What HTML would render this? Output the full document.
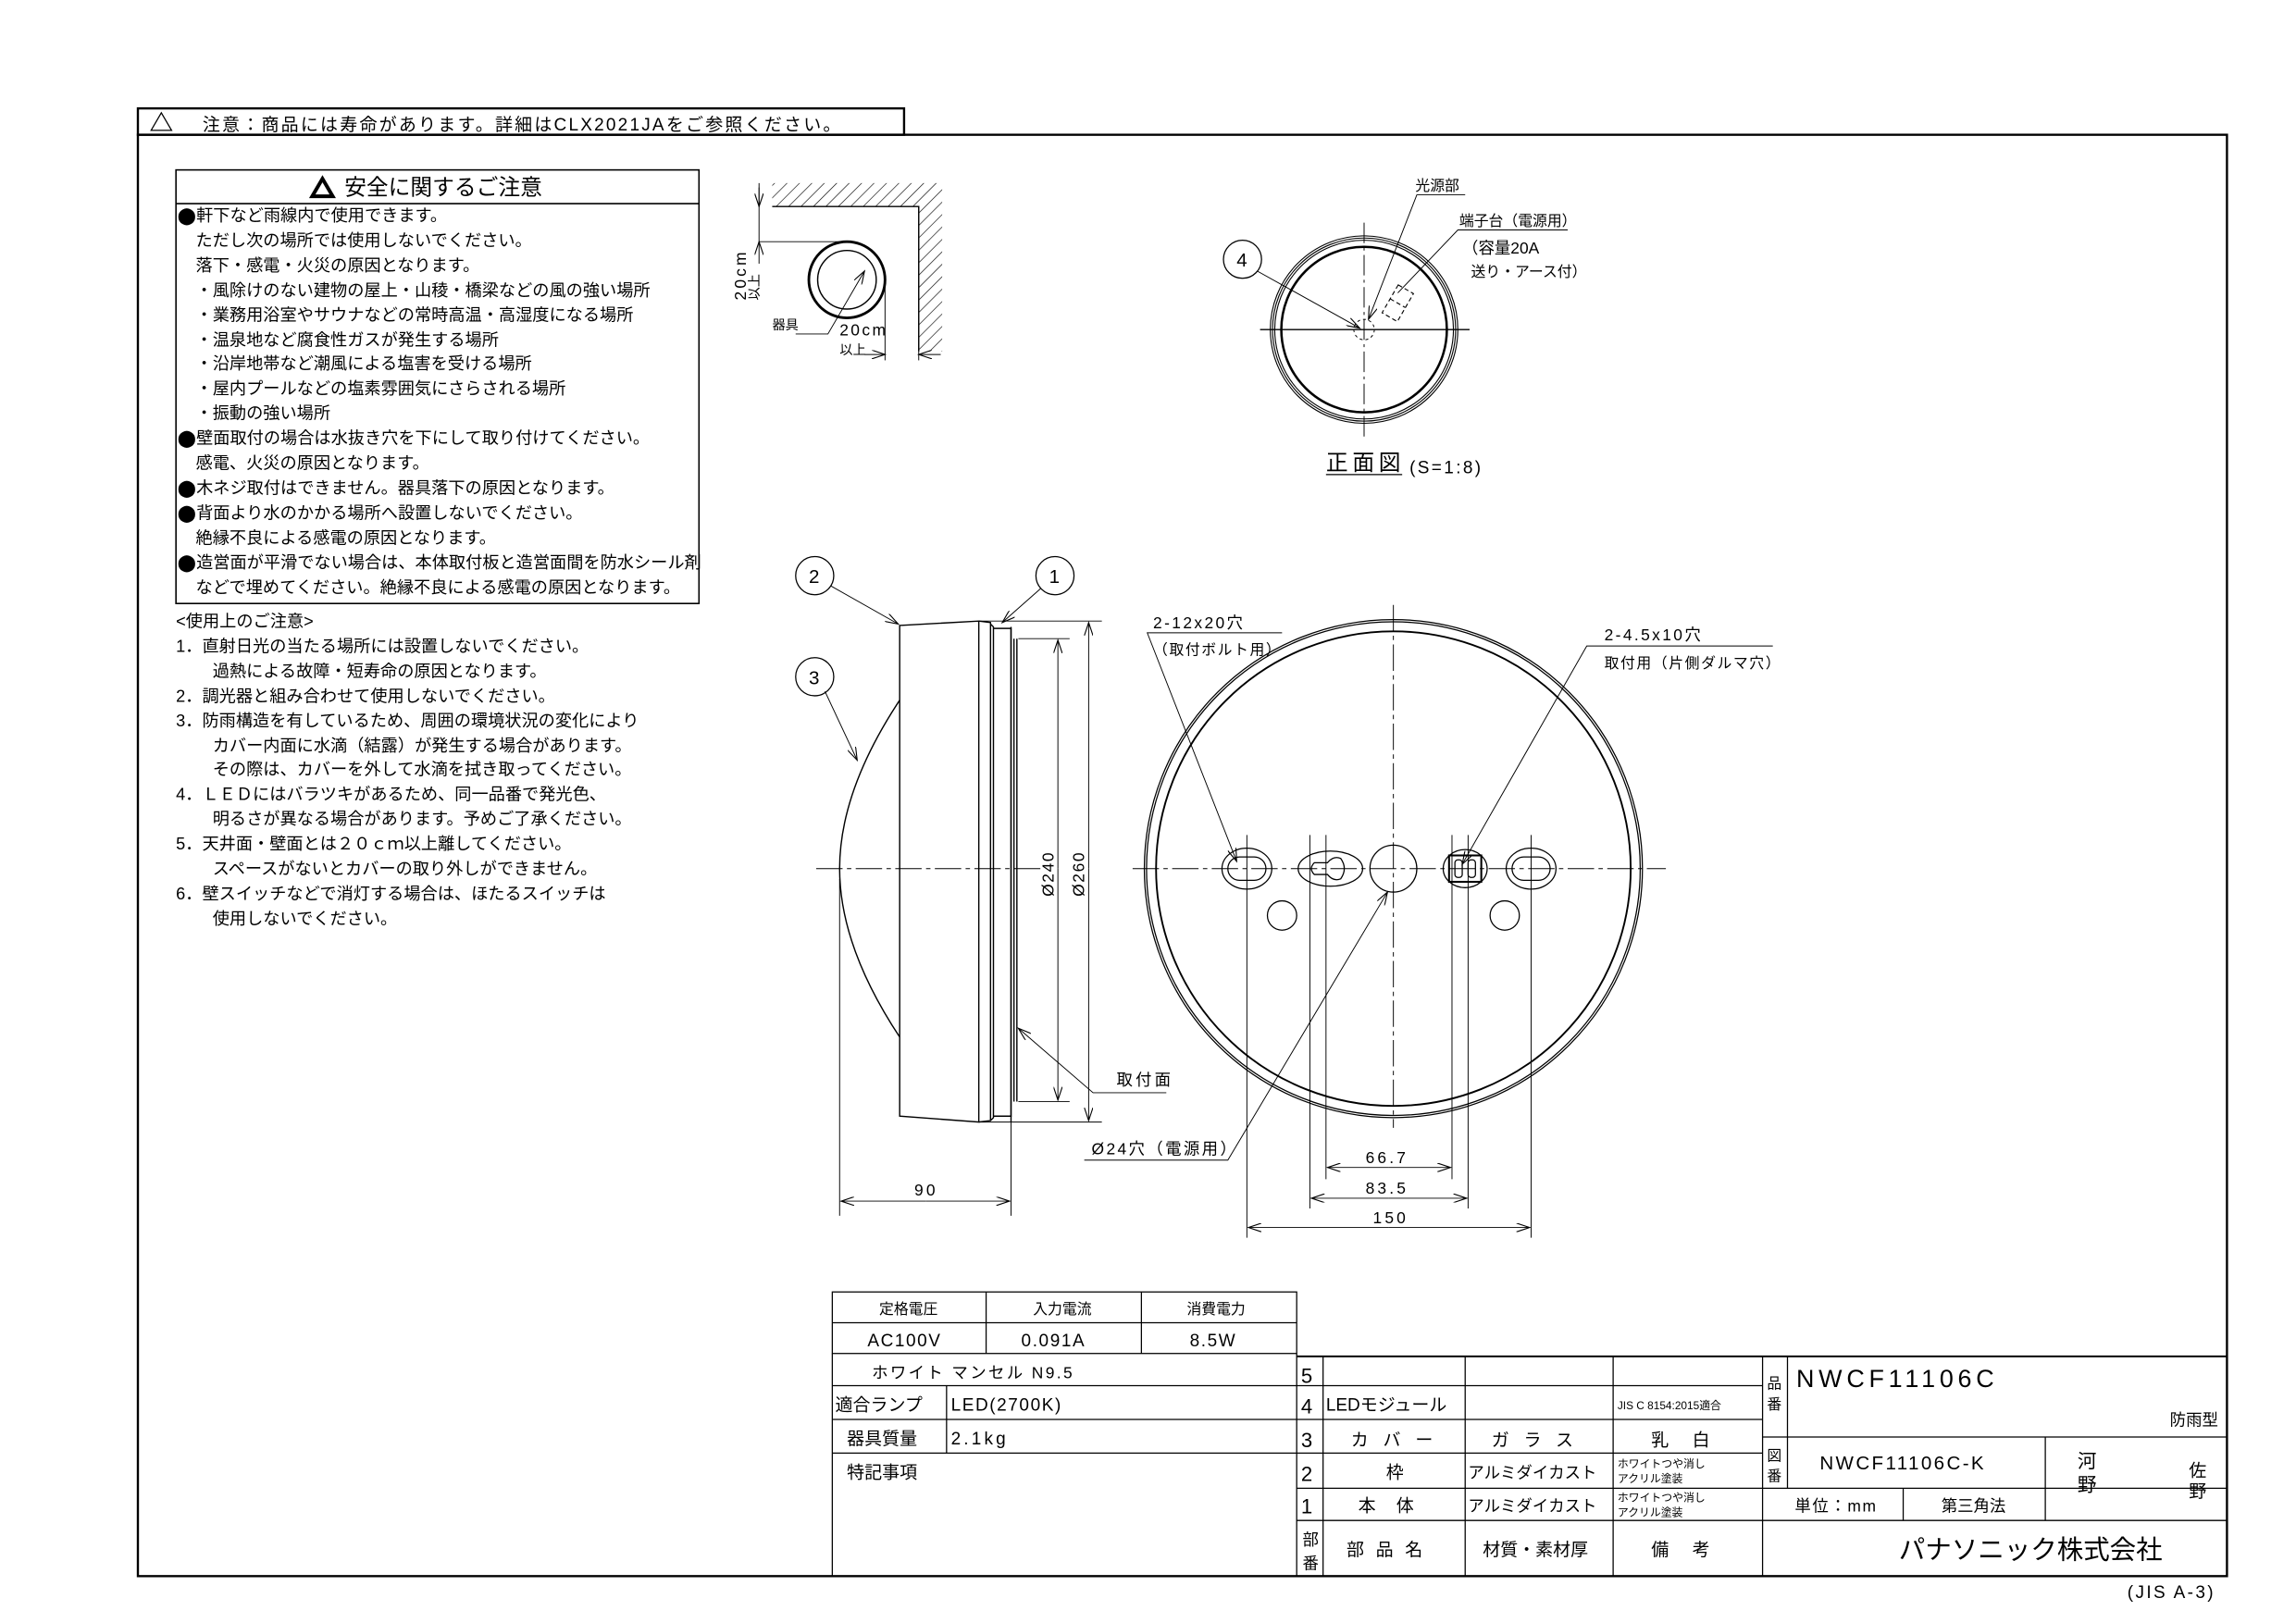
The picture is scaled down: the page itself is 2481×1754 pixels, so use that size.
<!DOCTYPE html>
<html><head><meta charset="utf-8"><style>
html,body{margin:0;padding:0;background:#fff;}
svg{display:block;}
text{font-family:"Liberation Sans","Noto Sans CJK JP",sans-serif;fill:#000;}
</style></head><body>
<svg width="2481" height="1754" viewBox="0 0 1567 1108" xmlns="http://www.w3.org/2000/svg">
<defs>
<pattern id="h" width="6" height="6" patternUnits="userSpaceOnUse" patternTransform="rotate(45)"><line x1="0" y1="0" x2="0" y2="6" stroke="#000" stroke-width="0.8"/></pattern>
<marker id="a" markerWidth="10" markerHeight="6" refX="9" refY="3" orient="auto" markerUnits="userSpaceOnUse"><path d="M0,0 L9,3 L0,6" fill="none" stroke="#000" stroke-width="0.7"/></marker>
</defs>
<g fill="none" stroke="#000" stroke-width="1">
<rect x="94" y="74" width="523" height="18" stroke-width="1.5"/>
<rect x="94" y="92" width="1426" height="984" stroke-width="1.5"/>
<path d="M103,89 L110,77 L117,89 Z" stroke-width="0.8"/>
<rect x="120" y="116" width="357" height="296"/>
<line x1="120" y1="139" x2="477" y2="139"/>
<path d="M213,134 L220,122 L227,134 Z" stroke-width="2.5"/>
</g>
<text x="120" y="89" font-size="12" letter-spacing="1.4">　 注意：商品には寿命があります。詳細はCLX2021JAをご参照ください。</text>
<text x="235" y="133" font-size="15">安全に関するご注意</text>
<g font-size="11.5">
<text x="121" y="151">⬤軒下など雨線内で使用できます。</text>
<text x="122" y="168">　ただし次の場所では使用しないでください。</text>
<text x="122" y="185">　落下・感電・火災の原因となります。</text>
<text x="122" y="202">　・風除けのない建物の屋上・山稜・橋梁などの風の強い場所</text>
<text x="122" y="219">　・業務用浴室やサウナなどの常時高温・高湿度になる場所</text>
<text x="122" y="236">　・温泉地など腐食性ガスが発生する場所</text>
<text x="122" y="252">　・沿岸地帯など潮風による塩害を受ける場所</text>
<text x="122" y="269">　・屋内プールなどの塩素雰囲気にさらされる場所</text>
<text x="122" y="286">　・振動の強い場所</text>
<text x="121" y="303">⬤壁面取付の場合は水抜き穴を下にして取り付けてください。</text>
<text x="122" y="320">　感電、火災の原因となります。</text>
<text x="121" y="337">⬤木ネジ取付はできません。器具落下の原因となります。</text>
<text x="121" y="354">⬤背面より水のかかる場所へ設置しないでください。</text>
<text x="122" y="371">　絶縁不良による感電の原因となります。</text>
<text x="121" y="388">⬤造営面が平滑でない場合は、本体取付板と造営面間を防水シール剤</text>
<text x="122" y="405">　などで埋めてください。絶縁不良による感電の原因となります。</text>
</g>
<g font-size="11.5">
<text x="120" y="428">&lt;使用上のご注意&gt;</text>
<text x="120" y="445">1．直射日光の当たる場所には設置しないでください。</text>
<text x="145" y="462">過熱による故障・短寿命の原因となります。</text>
<text x="120" y="479">2．調光器と組み合わせて使用しないでください。</text>
<text x="120" y="496">3．防雨構造を有しているため、周囲の環境状況の変化により</text>
<text x="145" y="513">カバー内面に水滴（結露）が発生する場合があります。</text>
<text x="145" y="529">その際は、カバーを外して水滴を拭き取ってください。</text>
<text x="120" y="546">4．ＬＥＤにはバラツキがあるため、同一品番で発光色、</text>
<text x="145" y="563">明るさが異なる場合があります。予めご了承ください。</text>
<text x="120" y="580">5．天井面・壁面とは２０ｃｍ以上離してください。</text>
<text x="145" y="597">スペースがないとカバーの取り外しができません。</text>
<text x="120" y="614">6．壁スイッチなどで消灯する場合は、ほたるスイッチは</text>
<text x="145" y="631">使用しないでください。</text>
</g>

<!-- clearance diagram -->
<g fill="none" stroke="#000" stroke-width="0.9">
<path d="M527,125 L643,125 L643,240 L627,240 L627,141 L527,141 Z" fill="url(#h)" stroke="none"/>
<polyline points="527,141 627,141 627,240"/>
<circle cx="578" cy="191" r="26" stroke-width="1.8"/>
<circle cx="578" cy="191" r="20"/>
<line x1="518" y1="125" x2="518" y2="165" stroke-width="0.6"/>
<line x1="518" y1="165" x2="578" y2="165" stroke-width="0.6"/>
<line x1="518" y1="128" x2="518" y2="141" marker-end="url(#a)" stroke-width="0.6"/>
<line x1="518" y1="180" x2="518" y2="165" marker-end="url(#a)" stroke-width="0.6"/>
<line x1="604" y1="191" x2="604" y2="246" stroke-width="0.6"/>
<line x1="627" y1="240" x2="627" y2="246" stroke-width="0.6"/>
<line x1="590" y1="242" x2="604" y2="242" marker-end="url(#a)" stroke-width="0.6"/>
<line x1="642" y1="242" x2="627" y2="242" marker-end="url(#a)" stroke-width="0.6"/>
<polyline points="543,228 565,228 590,185" stroke-width="0.6" marker-end="url(#a)"/>
</g>
<text transform="translate(509,205) rotate(-90)" font-size="11" letter-spacing="2">20cm</text>
<text transform="translate(518,205) rotate(-90)" font-size="9">以上</text>
<text x="527" y="225" font-size="9">器具</text>
<text x="573" y="229" font-size="11" letter-spacing="1.5">20cm</text>
<text x="573" y="242" font-size="9">以上</text>

<!-- front view -->
<g fill="none" stroke="#000">
<circle cx="931" cy="225" r="64" stroke-width="0.7"/>
<circle cx="931" cy="225" r="62.5" stroke-width="0.7"/>
<circle cx="931" cy="225" r="61" stroke-width="0.7"/>
<circle cx="931" cy="225" r="56.5" stroke-width="1.6"/>
<circle cx="931" cy="225" r="7" stroke-width="0.6" stroke-dasharray="2,2"/>
<line x1="860" y1="225" x2="1003" y2="225" stroke-width="0.8"/>
<line x1="931" y1="152" x2="931" y2="298" stroke-width="0.6" stroke-dasharray="14,3,2,3"/>
<g transform="translate(954,207) rotate(30)" stroke-dasharray="3,2" stroke-width="0.7"><rect x="-6" y="-11" width="12" height="22"/><line x1="-6" y1="0" x2="6" y2="0"/></g>
<circle cx="848" cy="177" r="13" stroke-width="0.8"/>
<line x1="858" y1="185" x2="928" y2="224" stroke-width="0.6" marker-end="url(#a)"/>
<polyline points="1000,133 967,133 934,218" stroke-width="0.6" marker-end="url(#a)"/>
<polyline points="1070,157 995,157 954,200" stroke-width="0.6"/>
<line x1="905" y1="324" x2="957" y2="324" stroke-width="0.8"/>
</g>
<text x="966" y="130" font-size="10">光源部</text>
<text x="996" y="154" font-size="10">端子台（電源用）</text>
<text x="998" y="173" font-size="11">（容量20A</text>
<text x="1004" y="189" font-size="10">送り・アース付）</text>
<text x="844" y="182" font-size="13">4</text>
<text x="905" y="321" font-size="15" letter-spacing="3">正面図</text>
<text x="962" y="323" font-size="12" letter-spacing="1.5">(S=1:8)</text>

<!-- side view -->
<g fill="none" stroke="#000" stroke-width="0.9">
<path d="M614,427 L668,424 L668,766 L614,762 Z"/>
<path d="M668,424 L676,425 L676,765 L668,766"/>
<path d="M676,426 L678,428 L678,763 L676,765"/>
<path d="M678,429 L690,429 L690,762 L678,762"/>
<line x1="690" y1="428" x2="690" y2="766"/>
<line x1="692" y1="436" x2="692" y2="752"/>
<line x1="694" y1="436" x2="694" y2="752"/>
<path d="M614,478 Q573,540 573,593 Q573,646 614,708"/>
<line x1="557" y1="593" x2="710" y2="593" stroke-width="0.6" stroke-dasharray="18,3,3,3"/>
<line x1="668" y1="424" x2="752" y2="424" stroke-width="0.6"/>
<line x1="668" y1="766" x2="752" y2="766" stroke-width="0.6"/>
<line x1="695" y1="436" x2="730" y2="436" stroke-width="0.6"/>
<line x1="695" y1="752" x2="730" y2="752" stroke-width="0.6"/>
<line x1="722" y1="593" x2="722" y2="437" stroke-width="0.6" marker-end="url(#a)"/>
<line x1="722" y1="593" x2="722" y2="751" stroke-width="0.6" marker-end="url(#a)"/>
<line x1="743" y1="593" x2="743" y2="425" stroke-width="0.6" marker-end="url(#a)"/>
<line x1="743" y1="593" x2="743" y2="765" stroke-width="0.6" marker-end="url(#a)"/>
<line x1="573" y1="600" x2="573" y2="830" stroke-width="0.6"/>
<line x1="690" y1="766" x2="690" y2="830" stroke-width="0.6"/>
<line x1="632" y1="820" x2="574" y2="820" stroke-width="0.6" marker-end="url(#a)"/>
<line x1="632" y1="820" x2="689" y2="820" stroke-width="0.6" marker-end="url(#a)"/>
<circle cx="556" cy="393" r="13" stroke-width="0.8"/>
<circle cx="720" cy="393" r="13" stroke-width="0.8"/>
<circle cx="556" cy="462" r="13" stroke-width="0.8"/>
<line x1="567" y1="400" x2="613" y2="426" stroke-width="0.6" marker-end="url(#a)"/>
<line x1="710" y1="402" x2="684" y2="425" stroke-width="0.6" marker-end="url(#a)"/>
<line x1="563" y1="472" x2="585" y2="519" stroke-width="0.6" marker-end="url(#a)"/>
<polyline points="796,746 746,746 695,702" stroke-width="0.6" marker-end="url(#a)"/>
</g>
<text x="552" y="398" font-size="13">2</text>
<text x="716" y="398" font-size="13">1</text>
<text x="552" y="467" font-size="13">3</text>
<text transform="translate(719,612) rotate(-90)" font-size="11" letter-spacing="1">Ø240</text>
<text transform="translate(740,612) rotate(-90)" font-size="11" letter-spacing="1">Ø260</text>
<text x="624" y="816" font-size="11" letter-spacing="2">90</text>
<text x="762" y="741" font-size="11" letter-spacing="2">取付面</text>

<!-- bottom view -->
<g fill="none" stroke="#000" stroke-width="0.8">
<circle cx="951" cy="593" r="170"/>
<circle cx="951" cy="593" r="168.5"/>
<circle cx="951" cy="593" r="162" stroke-width="1.2"/>
<line x1="773" y1="593" x2="1137" y2="593" stroke-width="0.6" stroke-dasharray="18,3,3,3"/>
<line x1="951" y1="413" x2="951" y2="770" stroke-width="0.6" stroke-dasharray="18,3,3,3"/>
<ellipse cx="851" cy="593" rx="17" ry="14"/>
<rect x="838" y="585" width="26" height="16" rx="8"/>
<ellipse cx="1045" cy="593" rx="17" ry="14"/>
<rect x="1032" y="585" width="26" height="16" rx="8"/>
<ellipse cx="908" cy="593" rx="22" ry="12"/>
<path d="M897,589 L906,589 Q910,584 915,586 Q920,593 915,600 Q910,602 906,597 L897,597 Q893,593 897,589 Z"/>
<circle cx="951" cy="593" r="16"/>
<ellipse cx="1000" cy="593" rx="15" ry="13"/>
<rect x="989" y="584" width="22" height="18" stroke-width="1.3"/>
<rect x="993" y="587" width="5" height="12" rx="2"/>
<rect x="1002" y="587" width="5" height="12" rx="2"/>
<circle cx="875" cy="625" r="10"/>
<circle cx="1027" cy="625" r="10"/>
<g stroke-width="0.6">
<line x1="851" y1="570" x2="851" y2="845"/>
<line x1="1045" y1="570" x2="1045" y2="845"/>
<line x1="894" y1="570" x2="894" y2="825"/>
<line x1="1002" y1="570" x2="1002" y2="825"/>
<line x1="905" y1="570" x2="905" y2="805"/>
<line x1="991" y1="570" x2="991" y2="805"/>
<line x1="948" y1="797" x2="906" y2="797" marker-end="url(#a)"/>
<line x1="948" y1="797" x2="990" y2="797" marker-end="url(#a)"/>
<line x1="948" y1="818" x2="895" y2="818" marker-end="url(#a)"/>
<line x1="948" y1="818" x2="1001" y2="818" marker-end="url(#a)"/>
<line x1="948" y1="838" x2="852" y2="838" marker-end="url(#a)"/>
<line x1="948" y1="838" x2="1044" y2="838" marker-end="url(#a)"/>
<polyline points="875,432 783,432 844,588" marker-end="url(#a)"/>
<polyline points="1210,441 1083,441 998,590" marker-end="url(#a)"/>
<polyline points="740,792 838,792 947,609" marker-end="url(#a)"/>
</g>
</g>
<text x="787" y="429" font-size="11" letter-spacing="1.5">2-12x20穴</text>
<text x="787" y="447" font-size="10" letter-spacing="1">（取付ボルト用）</text>
<text x="1095" y="437" font-size="11" letter-spacing="1.5">2-4.5x10穴</text>
<text x="1095" y="456" font-size="10" letter-spacing="1">取付用（片側ダルマ穴）</text>
<text x="745" y="788" font-size="11" letter-spacing="1.5">Ø24穴（電源用）</text>
<text x="932" y="794" font-size="11" letter-spacing="2">66.7</text>
<text x="932" y="815" font-size="11" letter-spacing="2">83.5</text>
<text x="937" y="835" font-size="11" letter-spacing="2">150</text>

<!-- title block -->
<g fill="none" stroke="#000" stroke-width="0.8">
<rect x="568" y="882" width="317" height="42"/>
<line x1="568" y1="903" x2="885" y2="903"/>
<line x1="673" y1="882" x2="673" y2="924"/>
<line x1="779" y1="882" x2="779" y2="924"/>
<line x1="568" y1="924" x2="568" y2="1076"/>
<line x1="885" y1="926" x2="1520" y2="926" stroke-width="1.3"/>
<line x1="568" y1="946" x2="1203" y2="946"/>
<line x1="568" y1="969" x2="1203" y2="969"/>
<line x1="568" y1="992" x2="1203" y2="992"/>
<line x1="885" y1="1016" x2="1520" y2="1016"/>
<line x1="885" y1="1038" x2="1520" y2="1038"/>
<line x1="1203" y1="981" x2="1520" y2="981"/>
<line x1="646" y1="946" x2="646" y2="992"/>
<line x1="885" y1="924" x2="885" y2="1076"/>
<line x1="903" y1="926" x2="903" y2="1076"/>
<line x1="1000" y1="926" x2="1000" y2="1076"/>
<line x1="1101" y1="926" x2="1101" y2="1076"/>
<line x1="1203" y1="926" x2="1203" y2="1076"/>
<line x1="1220" y1="926" x2="1220" y2="1016"/>
<line x1="1299" y1="1016" x2="1299" y2="1038"/>
<line x1="1396" y1="981" x2="1396" y2="1038"/>
</g>
<g font-size="10.5">
<text x="600" y="897" font-size="10">定格電圧</text>
<text x="705" y="897" font-size="10">入力電流</text>
<text x="810" y="897" font-size="10">消費電力</text>
<text x="592" y="919" font-size="12" letter-spacing="1">AC100V</text>
<text x="697" y="919" font-size="12" letter-spacing="1">0.091A</text>
<text x="812" y="919" font-size="12" letter-spacing="1">8.5W</text>
<text x="595" y="941" font-size="11" letter-spacing="1.5">ホワイト マンセル N9.5</text>
<text x="570" y="963" font-size="12">適合ランプ</text>
<text x="649" y="963" font-size="12" letter-spacing="1">LED(2700K)</text>
<text x="578" y="986" font-size="12">器具質量</text>
<text x="649" y="986" font-size="12" letter-spacing="2">2.1kg</text>
<text x="578" y="1009" font-size="12">特記事項</text>
<text x="888" y="944" font-size="14">5</text>
<text x="888" y="965" font-size="14">4</text>
<text x="888" y="988" font-size="14">3</text>
<text x="888" y="1011" font-size="14">2</text>
<text x="888" y="1033" font-size="14">1</text>
<text x="889" y="1055" font-size="11">部</text>
<text x="889" y="1071" font-size="11">番</text>
<text x="905" y="963" font-size="12">LEDモジュール</text>
<text x="1104" y="962" font-size="7.5">JIS C 8154:2015適合</text>
<text x="922" y="987" font-size="12" letter-spacing="10">カバー</text>
<text x="1018" y="987" font-size="12" letter-spacing="10">ガラス</text>
<text x="1127" y="987" font-size="12" letter-spacing="16">乳白</text>
<text x="946" y="1009" font-size="12">枠</text>
<text x="1002" y="1009" font-size="11">アルミダイカスト</text>
<text x="1104" y="1002" font-size="7.5">ホワイトつや消し</text>
<text x="1104" y="1012" font-size="7.5">アクリル塗装</text>
<text x="927" y="1032" font-size="12" letter-spacing="14">本体</text>
<text x="1002" y="1032" font-size="11">アルミダイカスト</text>
<text x="1104" y="1025" font-size="7.5">ホワイトつや消し</text>
<text x="1104" y="1035" font-size="7.5">アクリル塗装</text>
<text x="919" y="1062" font-size="12" letter-spacing="8">部品名</text>
<text x="1012" y="1062" font-size="12">材質・素材厚</text>
<text x="1127" y="1062" font-size="12" letter-spacing="16">備考</text>
<text x="1206" y="948" font-size="10">品</text>
<text x="1206" y="962" font-size="10">番</text>
<text x="1206" y="997" font-size="10">図</text>
<text x="1206" y="1011" font-size="10">番</text>
<text x="1226" y="947" font-size="17" letter-spacing="3">NWCF11106C</text>
<text x="1481" y="973" font-size="11">防雨型</text>
<text x="1242" y="1003" font-size="13" letter-spacing="1.5">NWCF11106C-K</text>
<text x="1418" y="1002" font-size="13">河</text>
<text x="1418" y="1018" font-size="13">野</text>
<text x="1494" y="1008" font-size="12">佐</text>
<text x="1494" y="1022" font-size="12">野</text>
<text x="1225" y="1032" font-size="11" letter-spacing="1">単位：mm</text>
<text x="1325" y="1032" font-size="11">第三角法</text>
<text x="1296" y="1064" font-size="18">パナソニック株式会社</text>
<text x="1452" y="1091" font-size="12" letter-spacing="1.5">(JIS A-3)</text>
</g>
</svg>
</body></html>
